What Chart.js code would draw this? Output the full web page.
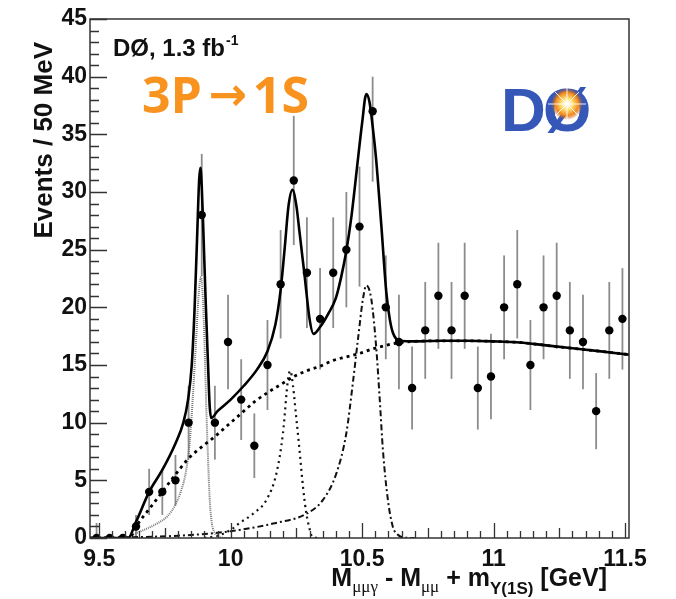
<!DOCTYPE html>
<html>
<head>
<meta charset="utf-8">
<script src="https://cdn.jsdelivr.net/npm/chart.js@4.4.1/dist/chart.umd.min.js"></script>
<style>
  body { margin: 0; background: #fff; }
  #wrap { width: 676px; height: 599px; }
</style>
</head>
<body>
<div id="wrap"><canvas id="dzero" width="676" height="599"></canvas></div>
<script>
// histogram: 50 MeV bins
const binCenters = [9.49, 9.54, 9.59, 9.64, 9.69, 9.74, 9.79, 9.84, 9.89, 9.94,
  9.99, 10.04, 10.09, 10.14, 10.19, 10.24, 10.29, 10.34, 10.39, 10.44,
  10.49, 10.54, 10.59, 10.64, 10.69, 10.74, 10.79, 10.84, 10.89, 10.94,
  10.99, 11.04, 11.09, 11.14, 11.19, 11.24, 11.29, 11.34, 11.39, 11.44, 11.49];
const events = [0, 0, 0, 1, 4, 4, 5, 10, 28, 10,
  17, 12, 8, 15, 22, 31, 23, 19, 23, 25,
  27, 37, 20, 17, 13, 18, 21, 18, 21, 13,
  14, 20, 22, 15, 20, 21, 18, 17, 11, 18, 19];
const errUp = [1.3, 0, 0, 1, 2, 2, 2.2, 3.2, 5.3, 3.2,
  4.1, 3.5, 2.8, 3.9, 4.7, 5.6, 4.8, 4.4, 4.8, 5,
  5.2, 3.0, 4.5, 4.1, 3.6, 4.2, 4.6, 4.2, 4.6, 3.6,
  3.7, 4.5, 4.7, 3.9, 4.5, 4.6, 4.2, 4.1, 3.3, 4.2, 4.4];
const errDown = [0, 0, 0, 1, 2, 2, 2.2, 3.2, 5.3, 3.2,
  4.1, 3.5, 2.8, 3.9, 4.7, 5.6, 4.8, 4.4, 4.8, 5,
  5.2, 6.1, 4.5, 4.1, 3.6, 4.2, 4.6, 4.2, 4.6, 3.6,
  3.7, 4.5, 4.7, 3.9, 4.5, 4.6, 4.2, 4.1, 3.3, 4.2, 4.4];

// total fit
const fitX = [9.465, 9.61, 9.64, 9.69, 9.74, 9.79, 9.82, 9.838, 9.852, 9.863,
  9.873, 9.880, 9.885, 9.890, 9.897, 9.905, 9.914, 9.920, 9.926, 9.95,
  10.00, 10.05, 10.10, 10.14, 10.17, 10.19, 10.205, 10.22, 10.235, 10.25,
  10.262, 10.281, 10.30, 10.315, 10.34, 10.37, 10.40, 10.42, 10.44, 10.46,
  10.48, 10.50, 10.516, 10.528, 10.541, 10.553, 10.573, 10.592, 10.605,
  10.617, 10.643, 10.70, 10.80, 10.90, 11.00, 11.10, 11.20, 11.30, 11.40, 11.515];
const fitY = [0, 0, 1.4, 4.0, 5.9, 8.2, 10.0, 12.0, 15.0, 20.0,
  26.5, 31.0, 32.1, 30.5, 26.0, 20.5, 15.0, 11.5, 10.4, 11.0,
  12.0, 13.2, 14.6, 16.2, 18.5, 21.5, 25.0, 28.8, 30.2, 28.8,
  26.5, 22.8, 19.0, 17.7, 18.3, 19.4, 20.8, 22.6, 24.9, 28.0,
  32.0, 36.0, 38.5, 37.8, 35.5, 32.9, 27.1, 21.3, 19.0,
  17.8, 17.1, 17.05, 17.1, 17.1, 17.05, 16.95, 16.7, 16.45, 16.2, 15.9];

// background
const bkgX = [9.465, 9.615, 9.64, 9.69, 9.74, 9.79, 9.84, 9.89, 9.94, 9.99,
  10.04, 10.09, 10.14, 10.19, 10.24, 10.29, 10.34, 10.39, 10.44, 10.49,
  10.54, 10.59, 10.643, 10.70, 10.80, 10.90, 11.00, 11.10, 11.20, 11.30, 11.40, 11.515];
const bkgY = [0, 0, 1.0, 2.5, 4.0, 5.5, 6.9, 7.9, 8.8, 9.8,
  10.8, 11.8, 12.6, 13.3, 14.0, 14.5, 14.9, 15.4, 15.7, 16.0,
  16.4, 16.7, 16.95, 17.05, 17.1, 17.1, 17.05, 16.95, 16.7, 16.45, 16.2, 15.9];

// chi_b(3P) -> Y(1S) components
const peak1X = [9.465, 9.60, 9.628, 9.68, 9.72, 9.76, 9.79, 9.81, 9.831, 9.845,
  9.857, 9.868, 9.878, 9.887, 9.895, 9.901, 9.907, 9.914, 9.920, 9.927,
  9.936, 9.95, 9.98, 10.0];
const peak1Y = [0, 0, 0.3, 0.8, 1.25, 1.9, 2.9, 4.0, 5.9, 8.5,
  12.6, 17.0, 21.0, 22.6, 20.5, 16.5, 11.5, 6.8, 3.5, 1.5,
  0.6, 0.2, 0, 0];
const peak2X = [9.90, 9.95, 10.00, 10.034, 10.085, 10.136, 10.174, 10.199, 10.218, 10.227,
  10.237, 10.249, 10.262, 10.275, 10.288, 10.30, 10.31, 10.33];
const peak2Y = [0, 0.2, 0.7, 1.3, 2.1, 3.3, 5.6, 9.1, 13.75, 14.5,
  13.2, 10.55, 7.6, 4.45, 2.1, 0.8, 0.1, 0];
const peak3X = [9.465, 9.6, 9.8, 9.95, 10.034, 10.161, 10.288, 10.351, 10.402, 10.440,
  10.465, 10.484, 10.503, 10.516, 10.535, 10.554, 10.567, 10.579, 10.598, 10.617,
  10.635, 10.655, 10.70];
const peak3Y = [0, 0.05, 0.2, 0.45, 0.7, 1.25, 2.1, 3.3, 5.6, 9.1,
  13.5, 17.2, 20.7, 21.9, 20.7, 16.4, 12.0, 7.65, 3.3, 0.96,
  0.3, 0.05, 0];

const xTicks = [9.5, 10, 10.5, 11, 11.5];

const toXY = (xs, ys) => xs.map((x, i) => ({ x: x, y: ys[i] }));

const errorBars = {
  id: "errorBars",
  beforeDatasetsDraw(chart) {
    const ctx = chart.ctx;
    const xs = chart.scales.x, ys = chart.scales.y;
    ctx.save();
    ctx.strokeStyle = "#8c8c8c";
    ctx.lineWidth = 1.8;
    binCenters.forEach((c, i) => {
      if (errUp[i] === 0 && errDown[i] === 0) return;
      const px = xs.getPixelForValue(c);
      ctx.beginPath();
      ctx.moveTo(px, ys.getPixelForValue(Math.max(0, events[i] - errDown[i])));
      ctx.lineTo(px, ys.getPixelForValue(events[i] + errUp[i]));
      ctx.stroke();
    });
    ctx.restore();
  }
};

const frameTicks = {
  id: "frameTicks",
  afterDatasetsDraw(chart) {
    const ctx = chart.ctx;
    const a = chart.chartArea;
    const xs = chart.scales.x, ys = chart.scales.y;
    ctx.save();
    ctx.strokeStyle = "#333";
    ctx.lineWidth = 1.5;
    ctx.strokeRect(a.left, a.top, a.right - a.left, a.bottom - a.top);
    ctx.lineWidth = 1.3;
    ctx.beginPath();
    for (let v = 0; v <= 45; v++) {
      const py = Math.round(ys.getPixelForValue(v)) + 0.5;
      const len = v % 5 === 0 ? 17 : 9;
      ctx.moveTo(a.left, py);
      ctx.lineTo(a.left + len, py);
    }
    for (let k = 0; k <= 40; k++) {
      const v = 9.5 + k * 0.05;
      const px = Math.round(xs.getPixelForValue(v)) + 0.5;
      const len = k % 10 === 0 ? 15 : (k % 10 === 5 ? 10 : 7);
      ctx.moveTo(px, a.bottom);
      ctx.lineTo(px, a.bottom - len);
    }
    ctx.stroke();
    ctx.restore();
  }
};

const texts = {
  id: "texts",
  afterDraw(chart) {
    const ctx = chart.ctx;
    ctx.save();
    ctx.fillStyle = "#111";
    ctx.textAlign = "left";
    ctx.textBaseline = "alphabetic";

    // DØ, 1.3 fb-1
    ctx.font = "bold 24px 'Liberation Sans'";
    ctx.fillText("DØ, 1.3 fb", 113, 56);
    const w = ctx.measureText("DØ, 1.3 fb").width;
    ctx.font = "bold 14px 'Liberation Sans'";
    ctx.fillText("-1", 113 + w + 1, 45);

    // 3P -> 1S
    ctx.fillStyle = "#f7931e";
    ctx.font = "bold 50px 'Open Sans'";
    ctx.fillText("3P", 142, 113);
    ctx.textAlign = "right";
    ctx.fillText("1S", 309, 113);
    ctx.textAlign = "center";
    ctx.font = "bold 46px 'DejaVu Sans'";
    ctx.fillText("\u2192", 228, 110);

    // y title
    ctx.fillStyle = "#111";
    ctx.save();
    ctx.translate(52, 0);
    ctx.rotate(-Math.PI / 2);
    ctx.textAlign = "right";
    ctx.font = "bold 26px 'Liberation Sans'";
    ctx.fillText("Events / 50 MeV", -42, 0);
    ctx.restore();

    // x title
    const big = "bold 25px 'Liberation Sans'";
    const sub = "17px 'Liberation Serif'";
    const segs = [
      { t: "M", f: big, dy: 0 },
      { t: "\u03bc\u03bc\u03b3", f: sub, dy: 6 },
      { t: " - M", f: big, dy: 0 },
      { t: "\u03bc\u03bc", f: sub, dy: 6 },
      { t: " + m", f: big, dy: 0 },
      { t: "\u03a5(1S)", f: "bold 17px 'Liberation Sans'", dy: 8 },
      { t: " [GeV]", f: big, dy: 0 }
    ];
    let total = 0;
    segs.forEach(s => { ctx.font = s.f; total += ctx.measureText(s.t).width; });
    let x = 607 - total;
    ctx.textAlign = "left";
    segs.forEach(s => {
      ctx.font = s.f;
      ctx.fillText(s.t, x, 586 + s.dy);
      x += ctx.measureText(s.t).width;
    });

    // DØ logo
    ctx.font = "bold 62px 'Liberation Sans'";
    ctx.fillStyle = "#3558b8";
    ctx.fillText("D", 501, 131);
    ctx.fillText("\u00d8", 543, 131);
    const g = ctx.createRadialGradient(567, 104, 1, 567, 104, 16);
    g.addColorStop(0, "#ffffff");
    g.addColorStop(0.3, "#ffe27a");
    g.addColorStop(0.7, "#f08a1c");
    g.addColorStop(1, "rgba(200,80,20,0)");
    ctx.fillStyle = g;
    ctx.beginPath();
    ctx.arc(567, 104, 16, 0, Math.PI * 2);
    ctx.fill();
    ctx.strokeStyle = "rgba(255,255,255,0.9)";
    ctx.lineWidth = 1;
    ctx.beginPath();
    ctx.moveTo(548, 104); ctx.lineTo(586, 104);
    ctx.moveTo(567, 86); ctx.lineTo(567, 122);
    ctx.moveTo(555, 92); ctx.lineTo(579, 116);
    ctx.moveTo(579, 92); ctx.lineTo(555, 116);
    ctx.stroke();
    ctx.restore();
  }
};

const curve = (data, color, width, dash) => ({
  data: data,
  showLine: true,
  borderColor: color,
  borderWidth: width,
  borderDash: dash,
  pointRadius: 0,
  cubicInterpolationMode: "monotone",
  fill: false
});

new Chart(document.getElementById("dzero"), {
  type: "scatter",
  data: {
    datasets: [
      {
        data: toXY(binCenters, events),
        pointRadius: 4.2,
        pointBackgroundColor: "#000",
        pointBorderWidth: 0,
        showLine: false
      },
      curve(toXY(fitX, fitY), "#000", 2.6, []),
      curve(toXY(bkgX, bkgY), "#000", 2.8, [3, 4]),
      curve(toXY(peak1X, peak1Y), "#777", 2, [1, 1]),
      curve(toXY(peak2X, peak2Y), "#111", 2.2, [2, 4]),
      curve(toXY(peak3X, peak3Y), "#111", 2, [6, 3, 2, 3])
    ]
  },
  options: {
    responsive: false,
    animation: false,
    layout: { padding: { top: 19, right: 47, left: 0, bottom: 0 } },
    plugins: { legend: { display: false }, tooltip: { enabled: false } },
    scales: {
      x: {
        type: "linear",
        min: 9.465,
        max: 11.515,
        afterFit: s => { s.height = 61; },
        afterBuildTicks: s => { s.ticks = xTicks.map(v => ({ value: v })); },
        grid: { display: false, drawTicks: false },
        border: { display: false },
        ticks: {
          padding: 8,
          color: "#111",
          font: { family: "Liberation Sans", size: 23, weight: "bold" },
          callback: v => String(v)
        }
      },
      y: {
        min: 0,
        max: 45,
        afterFit: s => { s.width = 90; },
        grid: { display: false, drawTicks: false },
        border: { display: false },
        ticks: {
          stepSize: 5,
          padding: 3,
          color: "#111",
          font: { family: "Liberation Sans", size: 23, weight: "bold" }
        }
      }
    }
  },
  plugins: [errorBars, frameTicks, texts]
});
</script>
</body>
</html>
